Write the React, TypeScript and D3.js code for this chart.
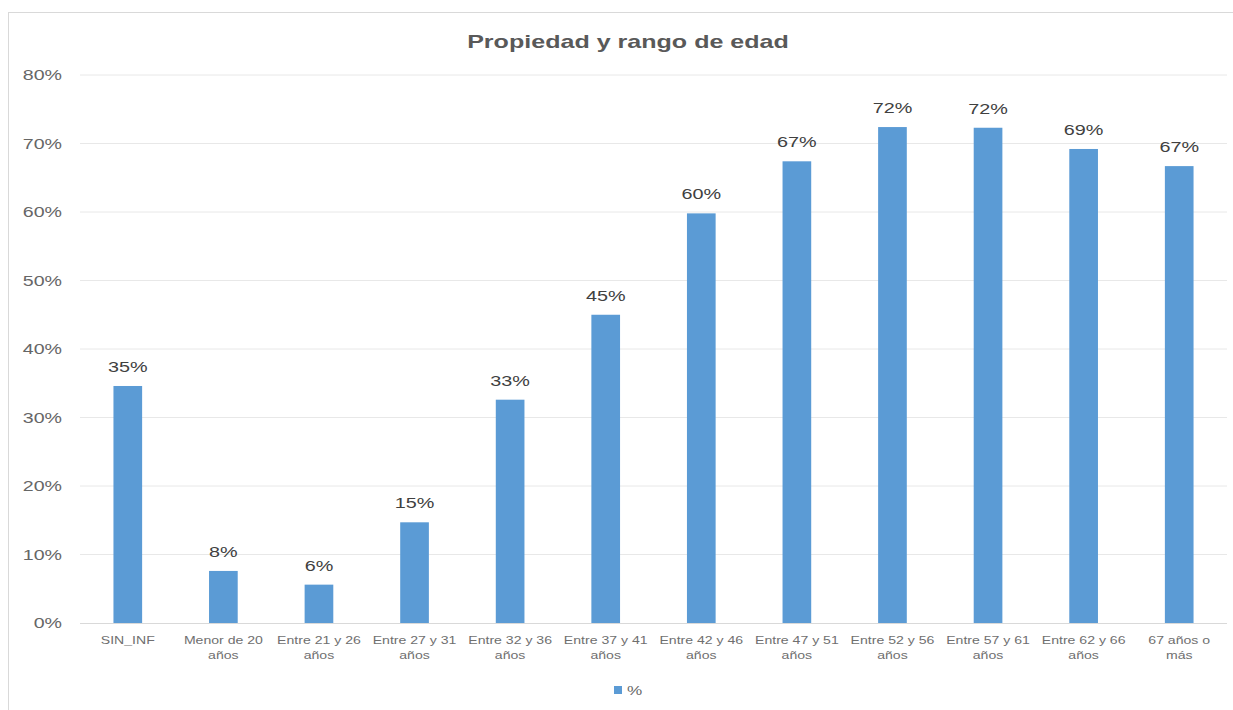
import * as d3 from "d3";

const title = "Propiedad y rango de edad";
const seriesName = "%";
const categories = [
  "SIN_INF",
  "Menor de 20 años",
  "Entre 21 y 26 años",
  "Entre 27 y 31 años",
  "Entre 32 y 36 años",
  "Entre 37 y 41 años",
  "Entre 42 y 46 años",
  "Entre 47 y 51 años",
  "Entre 52 y 56 años",
  "Entre 57 y 61 años",
  "Entre 62 y 66 años",
  "67 años o más",
];
// tick labels as shown, wrapped on two lines
const tickLines = [
  ["SIN_INF"],
  ["Menor de 20", "años"],
  ["Entre 21 y 26", "años"],
  ["Entre 27 y 31", "años"],
  ["Entre 32 y 36", "años"],
  ["Entre 37 y 41", "años"],
  ["Entre 42 y 46", "años"],
  ["Entre 47 y 51", "años"],
  ["Entre 52 y 56", "años"],
  ["Entre 57 y 61", "años"],
  ["Entre 62 y 66", "años"],
  ["67 años o", "más"],
];
const values = [0.346, 0.076, 0.056, 0.147, 0.326, 0.45, 0.598, 0.674, 0.724, 0.723, 0.692, 0.667];

const W = 1233;
const H = 710;
const left = 80;
const right = 1227;
const top = 75;
const bottom = 623;
const FONT = "'Liberation Sans', Arial, sans-serif";
const SX = 1.32; // source image is stretched horizontally

function T({ x, y, size, anchor = "middle", fill = "#595959", weight = "normal", sx = SX, children }) {
  return (
    <text
      transform={`translate(${x},${y}) scale(${sx},1)`}
      textAnchor={anchor}
      fontSize={size}
      fontWeight={weight}
      fill={fill}
      fontFamily={FONT}
    >
      {children}
    </text>
  );
}

export default function App() {
  const x = d3.scaleBand<string>().domain(categories).range([left, right]).paddingInner(0.7).paddingOuter(0.35);
  const y = d3.scaleLinear([0, 0.8], [bottom, top]);
  const fmt = d3.format(".0%");
  const ticks = y.ticks(8);

  return (
    <svg width={W} height={H} style={{ position: "absolute", left: 0, top: 0 }}>
      <rect x={0} y={0} width={W} height={H} fill="#fff" />
      <rect x={8.5} y={12.5} width={1240} height={720} fill="#fff" stroke="#d9d9d9" />
      <T x={628} y={48} size={19} weight="bold">{title}</T>

      {ticks.map((t) => (
        <g key={t}>
          {t > 0 && <line x1={left} x2={right} y1={y(t)} y2={y(t)} stroke="#e8e8e8" />}
          <T x={62} y={y(t) + 5} size={14} anchor="end" sx={1.4} fill="#666">{fmt(t)}</T>
        </g>
      ))}
      <line x1={left} x2={right} y1={bottom + 0.5} y2={bottom + 0.5} stroke="#d9d9d9" />

      {categories.map((c, i) => (
        <g key={c}>
          <rect x={x(c)} y={y(values[i])} width={x.bandwidth()} height={bottom - y(values[i])} fill="#5b9bd5" />
          <T x={x(c)! + x.bandwidth() / 2} y={y(values[i]) - 14} size={15} fill="#404040">
            {fmt(values[i])}
          </T>
          {tickLines[i].map((ln, j) => (
            <T key={j} x={x(c)! + x.bandwidth() / 2} y={644 + j * 15} size={11} sx={1.28} fill="#6f6f6f">
              {ln}
            </T>
          ))}
        </g>
      ))}

      <rect x={614} y={686} width={8} height={8} fill="#5b9bd5" />
      <T x={627} y={695} size={13} anchor="start" fill="#666">{seriesName}</T>
    </svg>
  );
}
